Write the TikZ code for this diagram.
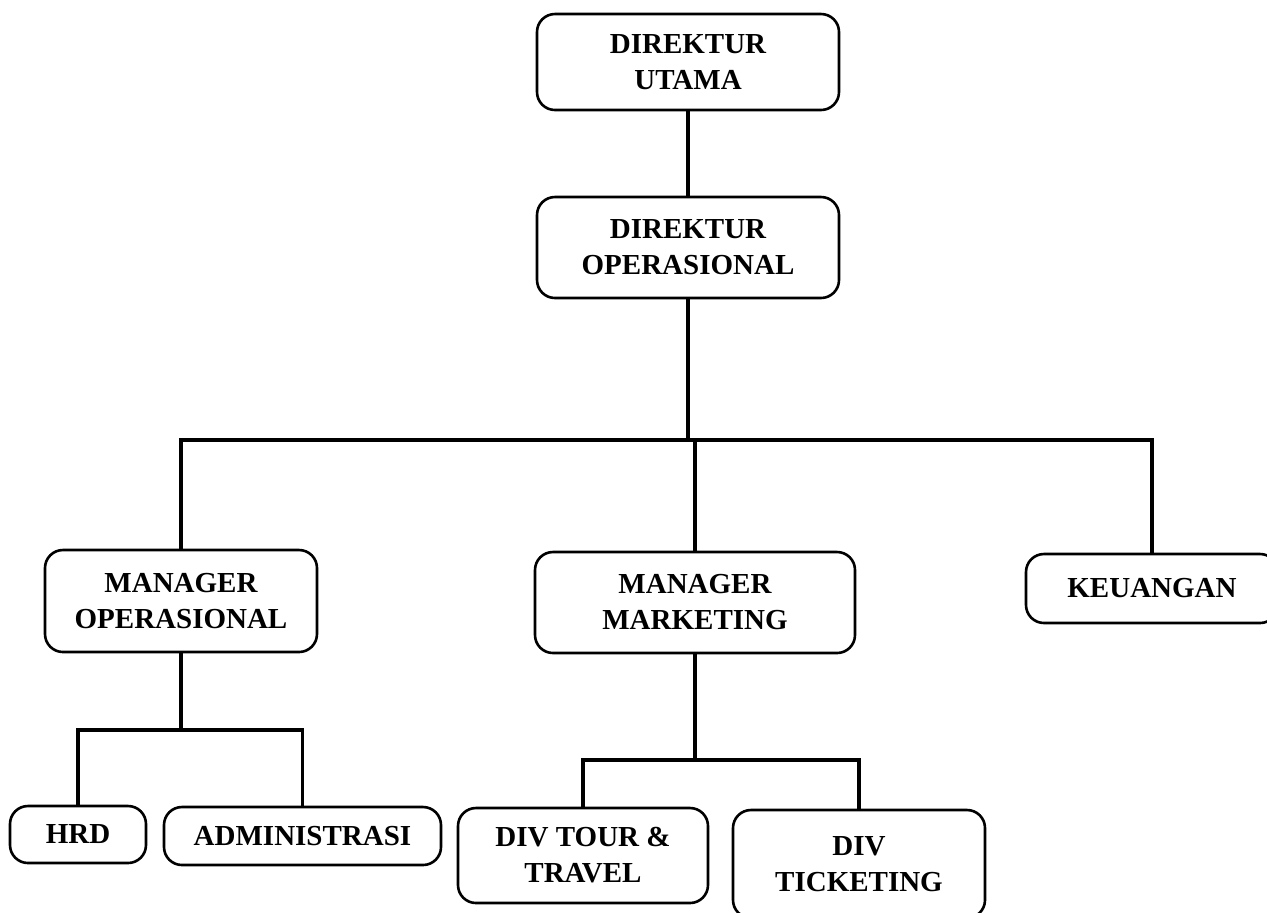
\documentclass[tikz,border=0pt]{standalone}
\usepackage{fontspec}
\setmainfont{Liberation Serif}

\tikzset{
    unit/.style={draw,line width=1.3pt,rounded corners=9pt,align=center,
        inner sep=0pt,font=\bfseries\fontsize{14.5}{18}\selectfont},
    link/.style={line width=1.7pt}
}

\begin{document}
\begin{tikzpicture}[x=0.5pt,y=-0.5pt]
        \useasboundingbox (0,0) rectangle (1267,912);

        % draw the units
        \node[unit,minimum width=151pt,minimum height=48pt] (du) at (688,62) {DIREKTUR\\UTAMA};
        \node[unit,minimum width=151pt,minimum height=50.5pt] (dop) at (688,247.5) {DIREKTUR\\OPERASIONAL};
        \node[unit,minimum width=136pt,minimum height=51pt] (mo) at (181,601) {MANAGER\\OPERASIONAL};
        \node[unit,minimum width=160pt,minimum height=50.5pt] (mm) at (695,602.5) {MANAGER\\MARKETING};
        \node[unit,minimum width=126pt,minimum height=34.5pt] (keu) at (1152,588.5) {KEUANGAN};
        \node[unit,minimum width=68pt,minimum height=28.5pt] (hrd) at (78,834.5) {HRD};
        \node[unit,minimum width=138.5pt,minimum height=29pt] (adm) at (302.5,836) {ADMINISTRASI};
        \node[unit,minimum width=125pt,minimum height=47.5pt] (tour) at (583,855.5) {DIV TOUR \&\\TRAVEL};
        \node[unit,minimum width=126pt,minimum height=54pt] (tick) at (859,864) {DIV\\TICKETING};

        % draw the bars
        \coordinate (top) at (690,440);
        \coordinate (left) at (184,730);
        \coordinate (right) at (694,760);

        \draw[link] (du) -- (dop);
        \draw[link] (dop) -- (dop |- top);
        \draw[link] (mo.north) -- (mo |- top) -- (keu |- top) -- (keu.north);
        \draw[link] (mm |- top) -- (mm.north);

        \draw[link] (mo) -- (mo |- left);
        \draw[link] (hrd.north) -- (hrd |- left) -- (adm |- left) -- (adm.north);

        \draw[link] (mm) -- (mm |- right);
        \draw[link] (tour.north) -- (tour |- right) -- (tick |- right) -- (tick.north);
\end{tikzpicture}
\end{document}
